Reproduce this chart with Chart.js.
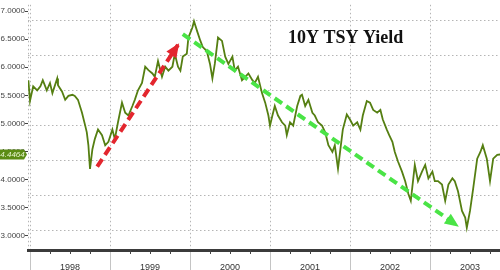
<!DOCTYPE html>
<html>
<head>
<meta charset="utf-8">
<script src="https://cdn.jsdelivr.net/npm/chart.js@4.4.1/dist/chart.umd.min.js"></script>
<style>
  body { margin: 0; background: #fff; }
  canvas { display: block; }
</style>
</head>
<body>
<canvas id="myChart" width="500" height="270"></canvas>
<script>
// 10Y TSY yield
const dates = [1997.98,1998.00,1998.04,1998.09,1998.13,1998.16,1998.21,1998.25,1998.28,1998.34,1998.35,1998.40,
  1998.44,1998.48,1998.53,1998.56,1998.60,1998.65,1998.69,1998.71,1998.73,1998.75,1998.78,1998.81,1998.85,1998.90,
  1998.94,1998.98,1999.03,1999.06,1999.10,1999.15,1999.19,1999.23,1999.28,1999.31,1999.35,1999.40,1999.44,1999.48,
  1999.53,1999.56,1999.60,1999.65,1999.69,1999.73,1999.78,1999.81,1999.85,1999.88,1999.91,1999.96,1999.98,2000.03,
  2000.05,2000.09,2000.13,2000.16,2000.21,2000.25,2000.28,2000.31,2000.35,2000.40,2000.44,2000.48,2000.53,2000.56,
  2000.60,2000.65,2000.69,2000.73,2000.78,2000.81,2000.85,2000.90,2000.94,2000.98,2001.00,2001.03,2001.06,2001.10,
  2001.15,2001.19,2001.21,2001.25,2001.29,2001.34,2001.38,2001.40,2001.44,2001.48,2001.53,2001.56,2001.60,2001.65,
  2001.69,2001.73,2001.78,2001.81,2001.85,2001.88,2001.91,2001.96,2002.00,2002.04,2002.09,2002.13,2002.16,2002.21,
  2002.25,2002.29,2002.34,2002.38,2002.41,2002.46,2002.49,2002.53,2002.56,2002.60,2002.65,2002.69,2002.73,2002.76,
  2002.81,2002.85,2002.90,2002.94,2002.98,2003.03,2003.06,2003.10,2003.15,2003.19,2003.23,2003.28,2003.31,2003.35,
  2003.40,2003.44,2003.46,2003.50,2003.54,2003.59,2003.63,2003.66,2003.71,2003.75,2003.79,2003.84,2003.88];
const yields = [5.77,5.40,5.66,5.59,5.66,5.77,5.59,5.72,5.54,5.80,5.68,5.57,
  5.42,5.49,5.51,5.49,5.42,5.19,4.96,4.84,4.61,4.19,4.54,4.72,4.89,4.79,
  4.61,4.67,4.89,4.72,5.02,5.37,5.19,5.14,5.31,5.42,5.59,5.72,6.01,5.95,
  5.89,5.83,6.11,5.83,6.01,5.94,6.01,6.24,6.01,5.94,6.19,6.24,6.53,6.71,
  6.82,6.64,6.47,6.36,6.29,6.06,5.80,6.06,6.53,6.47,6.19,6.06,6.19,5.94,
  6.01,5.77,5.83,5.89,5.77,5.72,5.83,5.54,5.37,5.14,4.96,5.14,5.31,5.14,
  5.02,4.96,4.79,5.02,4.96,5.31,5.49,5.51,5.31,5.42,5.19,5.14,5.02,4.96,
  4.84,4.61,4.49,4.61,4.19,4.54,4.89,5.16,5.07,4.96,5.02,4.89,5.14,5.40,
  5.37,5.24,5.19,5.24,5.07,4.89,4.79,4.67,4.49,4.32,4.14,3.97,3.74,3.62,
  4.26,3.97,4.14,4.26,4.02,4.14,3.97,3.97,3.91,3.62,3.91,4.02,3.97,3.79,
  3.44,3.32,3.14,3.44,3.84,4.37,4.49,4.61,4.37,3.97,4.37,4.44,4.4464];
const lastLabel = '4.4464';

// flechas de tendencia (inicio, fin)
const redArrowX = [1998.84, 1999.85];
const redArrowY = [4.23, 6.40];
const greenArrowX = [1999.91, 2003.34];
const greenArrowY = [6.59, 3.18];

// ejes
const years = [1998, 1999, 2000, 2001, 2002, 2003];
const yTicks = [3.0, 3.5, 4.0, 4.5, 5.0, 5.5, 6.0, 6.5, 7.0];
const gridValues = [3.09, 3.72, 4.34, 4.96, 5.58, 6.21, 6.83];
const xMin = 1997.975, xMax = 2003.875;
const yMin = 2.743, yMax = 7.114;

const toPoints = (xs, ys) => xs.map((x, i) => ({ x: x, y: ys[i] }));

// Plugin: cabezas de flecha, título, etiqueta del último valor, marcas menores
const extras = {
    id: 'extras',
    afterDatasetsDraw(chart) {
        const ctx = chart.ctx;
        [0, 1].forEach(i => {
            const pts = chart.getDatasetMeta(i).data;
            const a = pts[0], b = pts[1];
            const ang = Math.atan2(b.y - a.y, b.x - a.x);
            const len = 12, w = 6;
            ctx.save();
            ctx.fillStyle = chart.data.datasets[i].borderColor;
            ctx.translate(b.x, b.y);
            ctx.rotate(ang);
            ctx.beginPath();
            ctx.moveTo(2, 0);
            ctx.lineTo(-len, -w);
            ctx.lineTo(-len, w);
            ctx.closePath();
            ctx.fill();
            ctx.restore();
        });
    },
    afterDraw(chart) {
        const ctx = chart.ctx;
        const xs = chart.scales.x, ys = chart.scales.y;
        // marcas trimestrales
        ctx.save();
        ctx.strokeStyle = '#444';
        ctx.lineWidth = 1;
        years.forEach(yr => {
            [0.25, 0.5, 0.75].forEach(q => {
                const px = Math.round(xs.getPixelForValue(yr + q)) + 0.5;
                if (px > chart.chartArea.right) return;
                ctx.beginPath();
                ctx.moveTo(px, chart.chartArea.bottom);
                ctx.lineTo(px, chart.chartArea.bottom + 4);
                ctx.stroke();
            });
        });
        ctx.restore();
        // título
        ctx.save();
        ctx.fillStyle = '#111';
        ctx.font = 'bold 18px "Liberation Serif", "Times New Roman", serif';
        ctx.textBaseline = 'alphabetic';
        ctx.fillText('10Y TSY Yield', 288, 43);
        ctx.restore();
        // etiqueta del último valor
        const py = ys.getPixelForValue(yields[yields.length - 1]);
        ctx.save();
        ctx.fillStyle = '#5b8c14';
        ctx.beginPath();
        ctx.moveTo(0, py - 5);
        ctx.lineTo(24, py - 5);
        ctx.lineTo(27, py);
        ctx.lineTo(24, py + 5);
        ctx.lineTo(0, py + 5);
        ctx.closePath();
        ctx.fill();
        ctx.fillStyle = '#e8f5d0';
        ctx.font = 'italic 8px "Liberation Sans", Arial, sans-serif';
        ctx.textAlign = 'center';
        ctx.textBaseline = 'middle';
        ctx.fillText(lastLabel, 12.5, py + 0.5);
        ctx.restore();
    }
};

const ctx = document.getElementById('myChart').getContext('2d');
const myChart = new Chart(ctx, {
    type: 'line',
    data: {
        datasets: [{
            data: toPoints(redArrowX, redArrowY),
            borderColor: '#e3262e',
            borderWidth: 4,
            borderDash: [9, 5],
            pointRadius: 0,
            order: 0
        }, {
            data: toPoints(greenArrowX, greenArrowY),
            borderColor: '#4ae446',
            borderWidth: 4,
            borderDash: [9, 5],
            pointRadius: 0,
            order: 0
        }, {
            data: toPoints(dates, yields),
            borderColor: '#557f12',
            borderWidth: 1.8,
            pointRadius: 0,
            tension: 0,
            order: 1
        }]
    },
    options: {
        responsive: false,
        animation: false,
        devicePixelRatio: 1,
        layout: { padding: 0 },
        plugins: { legend: { display: false }, tooltip: { enabled: false } },
        scales: {
            x: {
                type: 'linear',
                min: xMin,
                max: xMax,
                afterBuildTicks: s => {
                    const t = [{ value: xMin }];
                    years.forEach(yr => { t.push({ value: yr }); t.push({ value: yr + 0.5 }); });
                    s.ticks = t;
                },
                afterFit: s => { s.height = 20; },
                ticks: {
                    autoSkip: false,
                    maxRotation: 0,
                    padding: -8,
                    color: '#333',
                    font: { family: '"Liberation Sans", Arial, sans-serif', size: 9 },
                    callback: v => (Math.abs(v % 1 - 0.5) < 0.01 ? String(Math.floor(v)) : '')
                },
                grid: {
                    color: c => (c.tick && Number.isInteger(c.tick.value) ? '#b5b5b5' : (c.tick && c.tick.value === xMin ? '#b5b5b5' : 'rgba(0,0,0,0)')),
                    lineWidth: 1,
                    tickLength: 20,
                    tickColor: c => (c.tick && Number.isInteger(c.tick.value) ? '#c4c4c4' : 'rgba(0,0,0,0)'),
                    tickBorderDash: []
                },
                border: { display: true, color: '#3b3b3b', width: 3, dash: [1.5, 2.5] }
            },
            y: {
                min: yMin,
                max: yMax,
                afterBuildTicks: s => { s.ticks = yTicks.map(v => ({ value: v })); },
                afterFit: s => { s.width = 28; },
                ticks: {
                    padding: 0,
                    color: '#444',
                    font: { family: '"Liberation Sans", Arial, sans-serif', size: 8 },
                    callback: v => v.toFixed(4)
                },
                grid: { drawOnChartArea: false, tickLength: 3, tickColor: '#444' },
                border: { display: false }
            },
            yg: {
                position: 'right',
                min: yMin,
                max: yMax,
                afterBuildTicks: s => { s.ticks = gridValues.map(v => ({ value: v })); },
                afterFit: s => { s.width = 0; },
                ticks: { display: false },
                grid: { color: '#b5b5b5', lineWidth: 1, drawTicks: false },
                border: { display: false, dash: [1.5, 2.5] }
            }
        }
    },
    plugins: [extras]
});
</script>
</body>
</html>
